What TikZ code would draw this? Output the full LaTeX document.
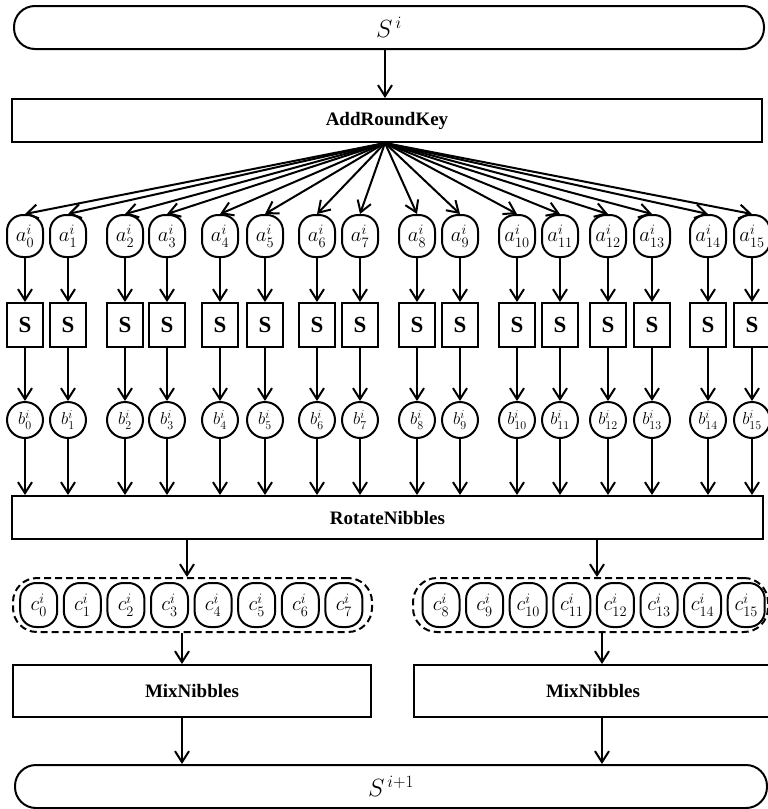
\documentclass[tikz,border=0pt]{standalone}
\usepackage{fontspec}
\setmainfont{Liberation Serif}
\usetikzlibrary{arrows.meta}
\begin{document}
\begin{tikzpicture}[x=1pt,y=-1pt,line width=2pt,
  arr/.style={-{Straight Barb[length=11pt,width=14pt,line width=2pt]}},
  bigbox/.style={draw,rectangle,inner sep=0pt,minimum height=43pt,font=\fontsize{19}{21}\selectfont\bfseries},
  pill/.style={draw,rectangle,rounded corners=21pt,inner sep=0pt,minimum height=43pt,font=\fontsize{24}{26}\selectfont},
  grp/.style={draw,dash pattern=on 7pt off 4pt,rectangle,rounded corners=24pt,inner sep=0pt,minimum height=54pt},
  anode/.style={draw,rectangle,rounded corners=16pt,minimum width=36pt,minimum height=42pt,inner sep=0pt,font=\fontsize{21}{23}\selectfont},
  cnode/.style={draw,rectangle,rounded corners=16pt,minimum width=37pt,minimum height=44pt,inner sep=0pt,font=\fontsize{21}{23}\selectfont},
  bnode/.style={draw,circle,minimum size=36pt,inner sep=0pt,font=\fontsize{18}{20}\selectfont},
  sbox/.style={draw,rectangle,minimum width=36pt,minimum height=44pt,inner sep=0pt,font=\fontsize{23}{25}\selectfont\bfseries}]
\useasboundingbox (0,0) rectangle (768,809);
\node[pill,minimum width=750pt] (si) at (389,27.5) {$S^{\,i}$};
\node[bigbox,minimum width=750pt] (ark) at (387,120.5) {AddRoundKey};
\coordinate (t) at (385,0);
\draw[arr] (si.south -| t) -- (ark.north -| t);
\coordinate (fan) at (ark.south -| t);
\node[bigbox,minimum width=751pt] (rot) at (387.5,517.5) {RotateNibbles};
\foreach \k/\x in {0/25,1/68,2/125,3/167,4/220,5/265,6/317,7/360,8/417,9/460,10/517,11/560,12/608,13/652,14/708,15/752}{
  \node[anode] (a\k) at (\x,236) {$a^{i}_{\k}$};
  \node[sbox] (s\k) at (\x,325) {S};
  \node[bnode] (b\k) at (\x,420) {$b^{i}_{\k}$};
  \draw[arr] (fan) -- (a\k.north);
  \draw[arr] (a\k) -- (s\k);
  \draw[arr] (s\k) -- (b\k);
  \draw[arr] (b\k) -- (rot.north -| b\k);
}
\node[grp,minimum width=359pt] (gl) at (192.5,605) {};
\node[grp,minimum width=355pt] (gr) at (590.5,605) {};
\foreach \k in {0,...,7}{
  \pgfmathsetmacro{\xx}{38.7+43.6*\k}
  \node[cnode] (c\k) at (\xx,605) {$c^{i}_{\k}$};
}
\foreach \k in {8,...,15}{
  \pgfmathsetmacro{\xx}{441+43.6*(\k-8)}
  \node[cnode] (c\k) at (\xx,605) {$c^{i}_{\k}$};
}
\node[bigbox,minimum width=358pt,minimum height=52pt] (ml) at (192,691) {MixNibbles};
\node[bigbox,minimum width=358pt,minimum height=52pt] (mr) at (593,691) {MixNibbles};
\node[pill,minimum width=752pt] (so) at (391,786.5) {$S^{\,i+1}$};
\coordinate (l1) at (187,0);
\coordinate (l2) at (182,0);
\coordinate (r1) at (597,0);
\coordinate (r2) at (602,0);
\draw[arr] (rot.south -| l1) -- (gl.north -| l1);
\draw[arr] (gl.south -| l2) -- (ml.north -| l2);
\draw[arr] (ml.south -| l2) -- (so.north -| l2);
\draw[arr] (rot.south -| r1) -- (gr.north -| r1);
\draw[arr] (gr.south -| r2) -- (mr.north -| r2);
\draw[arr] (mr.south -| r2) -- (so.north -| r2);
\end{tikzpicture}
\end{document}
